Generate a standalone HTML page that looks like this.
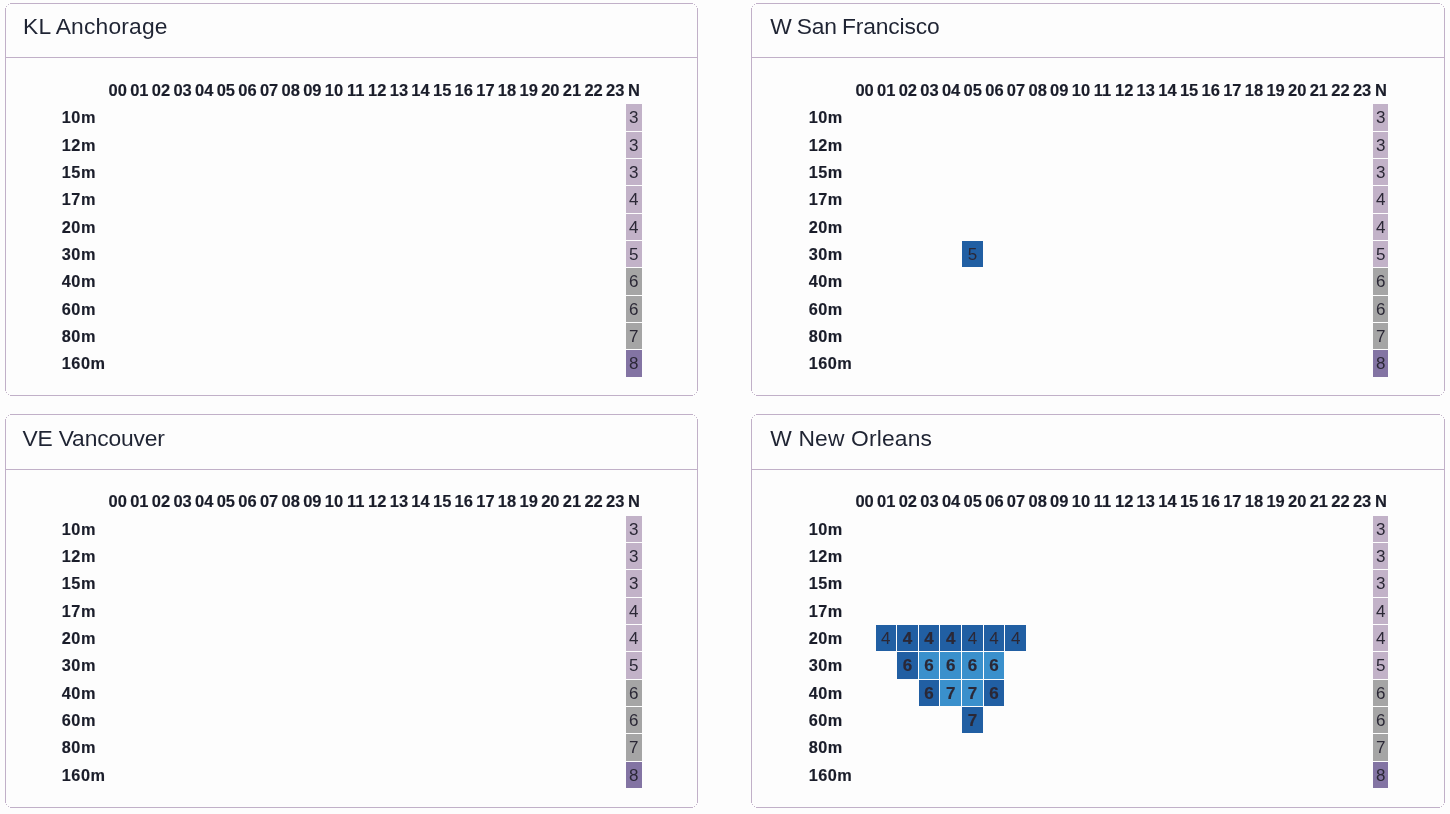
<!DOCTYPE html>
<html lang="en"><head><meta charset="utf-8"><title>Band conditions</title>
<style>
html,body{margin:0;padding:0}
body{width:1450px;height:814px;overflow:hidden;background:#fdfdfd;position:relative;font-family:"Liberation Sans",sans-serif;color:#1f2433}
.card{position:absolute;background:#fdfdfd}
.in{position:absolute;left:0;top:0;width:0;height:0}
.bh{position:absolute;left:5px;right:5px;top:0;bottom:0;border-top:1px solid #c1b0c8;border-bottom:1px solid #c1b0c8}
.bv{position:absolute;top:5px;bottom:5px;left:0;right:0;border-left:1px solid #c1b0c8;border-right:1px solid #c1b0c8}
.dots{position:absolute;left:0;top:0;width:1px;height:1px}
.card h2{position:absolute;margin:0;font-weight:400;font-size:22.8px;line-height:28px;white-space:nowrap}
.card .sep{position:absolute;left:0;right:0;height:1px;background:#c1b0c8}
.hh,.bl{-webkit-text-stroke:0.15px currentColor;color:#1a1d2a}
.hh{position:absolute;font-weight:700;font-size:16.5px;line-height:20px;height:20px;text-align:center;white-space:nowrap;letter-spacing:0px}
.bl{position:absolute;font-weight:700;font-size:16.3px;line-height:20px;height:20px;white-space:nowrap;letter-spacing:0.5px}
.c{position:absolute;text-align:center;font-size:17px;color:#2b2836;overflow:hidden}
.c span{position:absolute;left:-10px;right:-10px;text-align:center;line-height:20px;height:20px}
.c.b{font-weight:700;-webkit-text-stroke:0.2px currentColor}
.d{background:#215fa3}.l{background:#3a90cc}.p{background:#c2b2c8}.g{background:#a5a5a5}.v{background:#8374a3}
</style></head><body>

<div class="card" style="left:5px;top:3px;width:693px;height:393px"><div class="bh"></div><div class="bv"></div><div class="dots" style="box-shadow:1px 3px 0 #c7b8cd,3px 1px 0 #c7b8cd,691px 3px 0 #c7b8cd,689px 1px 0 #c7b8cd,1px 389px 0 #c7b8cd,3px 391px 0 #c7b8cd,691px 389px 0 #c7b8cd,689px 391px 0 #c7b8cd"></div><div class="in">
<h2 style="left:18.00px;top:9.00px;letter-spacing:0.19px;word-spacing:0px">KL Anchorage</h2>
</div><div class="sep" style="top:54px"></div><div class="in">
<div class="hh" style="left:101.90px;top:77.00px;width:21.63px">00</div>
<div class="hh" style="left:123.53px;top:77.00px;width:21.63px">01</div>
<div class="hh" style="left:145.16px;top:77.00px;width:21.63px">02</div>
<div class="hh" style="left:166.79px;top:77.00px;width:21.63px">03</div>
<div class="hh" style="left:188.42px;top:77.00px;width:21.63px">04</div>
<div class="hh" style="left:210.05px;top:77.00px;width:21.63px">05</div>
<div class="hh" style="left:231.68px;top:77.00px;width:21.63px">06</div>
<div class="hh" style="left:253.31px;top:77.00px;width:21.63px">07</div>
<div class="hh" style="left:274.94px;top:77.00px;width:21.63px">08</div>
<div class="hh" style="left:296.57px;top:77.00px;width:21.63px">09</div>
<div class="hh" style="left:318.20px;top:77.00px;width:21.63px">10</div>
<div class="hh" style="left:339.83px;top:77.00px;width:21.63px">11</div>
<div class="hh" style="left:361.46px;top:77.00px;width:21.63px">12</div>
<div class="hh" style="left:383.09px;top:77.00px;width:21.63px">13</div>
<div class="hh" style="left:404.72px;top:77.00px;width:21.63px">14</div>
<div class="hh" style="left:426.35px;top:77.00px;width:21.63px">15</div>
<div class="hh" style="left:447.98px;top:77.00px;width:21.63px">16</div>
<div class="hh" style="left:469.61px;top:77.00px;width:21.63px">17</div>
<div class="hh" style="left:491.24px;top:77.00px;width:21.63px">18</div>
<div class="hh" style="left:512.87px;top:77.00px;width:21.63px">19</div>
<div class="hh" style="left:534.50px;top:77.00px;width:21.63px">20</div>
<div class="hh" style="left:556.13px;top:77.00px;width:21.63px">21</div>
<div class="hh" style="left:577.76px;top:77.00px;width:21.63px">22</div>
<div class="hh" style="left:599.39px;top:77.00px;width:21.63px">23</div>
<div class="hh" style="left:621.02px;top:77.00px;width:16px">N</div>
<div class="bl" style="left:56.80px;top:104.47px">10m</div>
<div class="c p" style="left:621px;top:101px;width:16px;height:27px"><span style="top:4.27px;margin-left:-0.31px">3</span></div>
<div class="bl" style="left:56.80px;top:131.80px">12m</div>
<div class="c p" style="left:621px;top:129px;width:16px;height:26px"><span style="top:3.60px;margin-left:-0.31px">3</span></div>
<div class="bl" style="left:56.80px;top:159.13px">15m</div>
<div class="c p" style="left:621px;top:156px;width:16px;height:26px"><span style="top:3.93px;margin-left:-0.31px">3</span></div>
<div class="bl" style="left:56.80px;top:186.47px">17m</div>
<div class="c p" style="left:621px;top:183px;width:16px;height:27px"><span style="top:4.27px;margin-left:-0.31px">4</span></div>
<div class="bl" style="left:56.80px;top:213.80px">20m</div>
<div class="c p" style="left:621px;top:211px;width:16px;height:26px"><span style="top:3.60px;margin-left:-0.31px">4</span></div>
<div class="bl" style="left:56.80px;top:241.13px">30m</div>
<div class="c p" style="left:621px;top:238px;width:16px;height:26px"><span style="top:3.93px;margin-left:-0.31px">5</span></div>
<div class="bl" style="left:56.80px;top:268.46px">40m</div>
<div class="c g" style="left:621px;top:265px;width:16px;height:27px"><span style="top:4.26px;margin-left:-0.31px">6</span></div>
<div class="bl" style="left:56.80px;top:295.80px">60m</div>
<div class="c g" style="left:621px;top:293px;width:16px;height:26px"><span style="top:3.60px;margin-left:-0.31px">6</span></div>
<div class="bl" style="left:56.80px;top:323.13px">80m</div>
<div class="c g" style="left:621px;top:320px;width:16px;height:26px"><span style="top:3.93px;margin-left:-0.31px">7</span></div>
<div class="bl" style="left:56.80px;top:350.46px">160m</div>
<div class="c v" style="left:621px;top:347px;width:16px;height:27px"><span style="top:4.26px;margin-left:-0.31px">8</span></div>
</div></div>
<div class="card" style="left:751px;top:3px;width:694px;height:393px"><div class="bh"></div><div class="bv"></div><div class="dots" style="box-shadow:1px 3px 0 #c7b8cd,3px 1px 0 #c7b8cd,692px 3px 0 #c7b8cd,690px 1px 0 #c7b8cd,1px 389px 0 #c7b8cd,3px 391px 0 #c7b8cd,692px 389px 0 #c7b8cd,690px 391px 0 #c7b8cd"></div><div class="in">
<h2 style="left:19.20px;top:9.00px;letter-spacing:-0.13px;word-spacing:-1.1px">W San Francisco</h2>
</div><div class="sep" style="top:54px"></div><div class="in">
<div class="hh" style="left:102.80px;top:77.00px;width:21.63px">00</div>
<div class="hh" style="left:124.43px;top:77.00px;width:21.63px">01</div>
<div class="hh" style="left:146.06px;top:77.00px;width:21.63px">02</div>
<div class="hh" style="left:167.69px;top:77.00px;width:21.63px">03</div>
<div class="hh" style="left:189.32px;top:77.00px;width:21.63px">04</div>
<div class="hh" style="left:210.95px;top:77.00px;width:21.63px">05</div>
<div class="hh" style="left:232.58px;top:77.00px;width:21.63px">06</div>
<div class="hh" style="left:254.21px;top:77.00px;width:21.63px">07</div>
<div class="hh" style="left:275.84px;top:77.00px;width:21.63px">08</div>
<div class="hh" style="left:297.47px;top:77.00px;width:21.63px">09</div>
<div class="hh" style="left:319.10px;top:77.00px;width:21.63px">10</div>
<div class="hh" style="left:340.73px;top:77.00px;width:21.63px">11</div>
<div class="hh" style="left:362.36px;top:77.00px;width:21.63px">12</div>
<div class="hh" style="left:383.99px;top:77.00px;width:21.63px">13</div>
<div class="hh" style="left:405.62px;top:77.00px;width:21.63px">14</div>
<div class="hh" style="left:427.25px;top:77.00px;width:21.63px">15</div>
<div class="hh" style="left:448.88px;top:77.00px;width:21.63px">16</div>
<div class="hh" style="left:470.51px;top:77.00px;width:21.63px">17</div>
<div class="hh" style="left:492.14px;top:77.00px;width:21.63px">18</div>
<div class="hh" style="left:513.77px;top:77.00px;width:21.63px">19</div>
<div class="hh" style="left:535.40px;top:77.00px;width:21.63px">20</div>
<div class="hh" style="left:557.03px;top:77.00px;width:21.63px">21</div>
<div class="hh" style="left:578.66px;top:77.00px;width:21.63px">22</div>
<div class="hh" style="left:600.29px;top:77.00px;width:21.63px">23</div>
<div class="hh" style="left:621.92px;top:77.00px;width:16px">N</div>
<div class="bl" style="left:57.70px;top:104.47px">10m</div>
<div class="c p" style="left:622px;top:101px;width:15px;height:27px"><span style="top:4.27px;margin-left:0.49px">3</span></div>
<div class="bl" style="left:57.70px;top:131.80px">12m</div>
<div class="c p" style="left:622px;top:129px;width:15px;height:26px"><span style="top:3.60px;margin-left:0.49px">3</span></div>
<div class="bl" style="left:57.70px;top:159.13px">15m</div>
<div class="c p" style="left:622px;top:156px;width:15px;height:26px"><span style="top:3.93px;margin-left:0.49px">3</span></div>
<div class="bl" style="left:57.70px;top:186.47px">17m</div>
<div class="c p" style="left:622px;top:183px;width:15px;height:27px"><span style="top:4.27px;margin-left:0.49px">4</span></div>
<div class="bl" style="left:57.70px;top:213.80px">20m</div>
<div class="c p" style="left:622px;top:211px;width:15px;height:26px"><span style="top:3.60px;margin-left:0.49px">4</span></div>
<div class="bl" style="left:57.70px;top:241.13px">30m</div>
<div class="c d" style="left:211px;top:238px;width:21px;height:26px"><span style="top:3.93px;margin-left:-0.27px">5</span></div>
<div class="c p" style="left:622px;top:238px;width:15px;height:26px"><span style="top:3.93px;margin-left:0.49px">5</span></div>
<div class="bl" style="left:57.70px;top:268.46px">40m</div>
<div class="c g" style="left:622px;top:265px;width:15px;height:27px"><span style="top:4.26px;margin-left:0.49px">6</span></div>
<div class="bl" style="left:57.70px;top:295.80px">60m</div>
<div class="c g" style="left:622px;top:293px;width:15px;height:26px"><span style="top:3.60px;margin-left:0.49px">6</span></div>
<div class="bl" style="left:57.70px;top:323.13px">80m</div>
<div class="c g" style="left:622px;top:320px;width:15px;height:26px"><span style="top:3.93px;margin-left:0.49px">7</span></div>
<div class="bl" style="left:57.70px;top:350.46px">160m</div>
<div class="c v" style="left:622px;top:347px;width:15px;height:27px"><span style="top:4.26px;margin-left:0.49px">8</span></div>
</div></div>
<div class="card" style="left:5px;top:414px;width:693px;height:394px"><div class="bh"></div><div class="bv"></div><div class="dots" style="box-shadow:1px 3px 0 #c7b8cd,3px 1px 0 #c7b8cd,691px 3px 0 #c7b8cd,689px 1px 0 #c7b8cd,1px 390px 0 #c7b8cd,3px 392px 0 #c7b8cd,691px 390px 0 #c7b8cd,689px 392px 0 #c7b8cd"></div><div class="in">
<h2 style="left:17.40px;top:10.00px;letter-spacing:-0.14px;word-spacing:0px">VE Vancouver</h2>
</div><div class="sep" style="top:55px"></div><div class="in">
<div class="hh" style="left:101.90px;top:77.40px;width:21.63px">00</div>
<div class="hh" style="left:123.53px;top:77.40px;width:21.63px">01</div>
<div class="hh" style="left:145.16px;top:77.40px;width:21.63px">02</div>
<div class="hh" style="left:166.79px;top:77.40px;width:21.63px">03</div>
<div class="hh" style="left:188.42px;top:77.40px;width:21.63px">04</div>
<div class="hh" style="left:210.05px;top:77.40px;width:21.63px">05</div>
<div class="hh" style="left:231.68px;top:77.40px;width:21.63px">06</div>
<div class="hh" style="left:253.31px;top:77.40px;width:21.63px">07</div>
<div class="hh" style="left:274.94px;top:77.40px;width:21.63px">08</div>
<div class="hh" style="left:296.57px;top:77.40px;width:21.63px">09</div>
<div class="hh" style="left:318.20px;top:77.40px;width:21.63px">10</div>
<div class="hh" style="left:339.83px;top:77.40px;width:21.63px">11</div>
<div class="hh" style="left:361.46px;top:77.40px;width:21.63px">12</div>
<div class="hh" style="left:383.09px;top:77.40px;width:21.63px">13</div>
<div class="hh" style="left:404.72px;top:77.40px;width:21.63px">14</div>
<div class="hh" style="left:426.35px;top:77.40px;width:21.63px">15</div>
<div class="hh" style="left:447.98px;top:77.40px;width:21.63px">16</div>
<div class="hh" style="left:469.61px;top:77.40px;width:21.63px">17</div>
<div class="hh" style="left:491.24px;top:77.40px;width:21.63px">18</div>
<div class="hh" style="left:512.87px;top:77.40px;width:21.63px">19</div>
<div class="hh" style="left:534.50px;top:77.40px;width:21.63px">20</div>
<div class="hh" style="left:556.13px;top:77.40px;width:21.63px">21</div>
<div class="hh" style="left:577.76px;top:77.40px;width:21.63px">22</div>
<div class="hh" style="left:599.39px;top:77.40px;width:21.63px">23</div>
<div class="hh" style="left:621.02px;top:77.40px;width:16px">N</div>
<div class="bl" style="left:56.80px;top:104.72px">10m</div>
<div class="c p" style="left:621px;top:102px;width:16px;height:26px"><span style="top:3.67px;margin-left:-0.31px">3</span></div>
<div class="bl" style="left:56.80px;top:132.05px">12m</div>
<div class="c p" style="left:621px;top:129px;width:16px;height:26px"><span style="top:4.00px;margin-left:-0.31px">3</span></div>
<div class="bl" style="left:56.80px;top:159.38px">15m</div>
<div class="c p" style="left:621px;top:156px;width:16px;height:27px"><span style="top:4.33px;margin-left:-0.31px">3</span></div>
<div class="bl" style="left:56.80px;top:186.72px">17m</div>
<div class="c p" style="left:621px;top:184px;width:16px;height:26px"><span style="top:3.67px;margin-left:-0.31px">4</span></div>
<div class="bl" style="left:56.80px;top:214.05px">20m</div>
<div class="c p" style="left:621px;top:211px;width:16px;height:26px"><span style="top:4.00px;margin-left:-0.31px">4</span></div>
<div class="bl" style="left:56.80px;top:241.38px">30m</div>
<div class="c p" style="left:621px;top:238px;width:16px;height:27px"><span style="top:4.33px;margin-left:-0.31px">5</span></div>
<div class="bl" style="left:56.80px;top:268.71px">40m</div>
<div class="c g" style="left:621px;top:266px;width:16px;height:26px"><span style="top:3.66px;margin-left:-0.31px">6</span></div>
<div class="bl" style="left:56.80px;top:296.05px">60m</div>
<div class="c g" style="left:621px;top:293px;width:16px;height:26px"><span style="top:4.00px;margin-left:-0.31px">6</span></div>
<div class="bl" style="left:56.80px;top:323.38px">80m</div>
<div class="c g" style="left:621px;top:320px;width:16px;height:27px"><span style="top:4.33px;margin-left:-0.31px">7</span></div>
<div class="bl" style="left:56.80px;top:350.71px">160m</div>
<div class="c v" style="left:621px;top:348px;width:16px;height:26px"><span style="top:3.66px;margin-left:-0.31px">8</span></div>
</div></div>
<div class="card" style="left:751px;top:414px;width:694px;height:394px"><div class="bh"></div><div class="bv"></div><div class="dots" style="box-shadow:1px 3px 0 #c7b8cd,3px 1px 0 #c7b8cd,692px 3px 0 #c7b8cd,690px 1px 0 #c7b8cd,1px 390px 0 #c7b8cd,3px 392px 0 #c7b8cd,692px 390px 0 #c7b8cd,690px 392px 0 #c7b8cd"></div><div class="in">
<h2 style="left:19.20px;top:10.00px;letter-spacing:0.18px;word-spacing:0px">W New Orleans</h2>
</div><div class="sep" style="top:55px"></div><div class="in">
<div class="hh" style="left:102.80px;top:77.40px;width:21.63px">00</div>
<div class="hh" style="left:124.43px;top:77.40px;width:21.63px">01</div>
<div class="hh" style="left:146.06px;top:77.40px;width:21.63px">02</div>
<div class="hh" style="left:167.69px;top:77.40px;width:21.63px">03</div>
<div class="hh" style="left:189.32px;top:77.40px;width:21.63px">04</div>
<div class="hh" style="left:210.95px;top:77.40px;width:21.63px">05</div>
<div class="hh" style="left:232.58px;top:77.40px;width:21.63px">06</div>
<div class="hh" style="left:254.21px;top:77.40px;width:21.63px">07</div>
<div class="hh" style="left:275.84px;top:77.40px;width:21.63px">08</div>
<div class="hh" style="left:297.47px;top:77.40px;width:21.63px">09</div>
<div class="hh" style="left:319.10px;top:77.40px;width:21.63px">10</div>
<div class="hh" style="left:340.73px;top:77.40px;width:21.63px">11</div>
<div class="hh" style="left:362.36px;top:77.40px;width:21.63px">12</div>
<div class="hh" style="left:383.99px;top:77.40px;width:21.63px">13</div>
<div class="hh" style="left:405.62px;top:77.40px;width:21.63px">14</div>
<div class="hh" style="left:427.25px;top:77.40px;width:21.63px">15</div>
<div class="hh" style="left:448.88px;top:77.40px;width:21.63px">16</div>
<div class="hh" style="left:470.51px;top:77.40px;width:21.63px">17</div>
<div class="hh" style="left:492.14px;top:77.40px;width:21.63px">18</div>
<div class="hh" style="left:513.77px;top:77.40px;width:21.63px">19</div>
<div class="hh" style="left:535.40px;top:77.40px;width:21.63px">20</div>
<div class="hh" style="left:557.03px;top:77.40px;width:21.63px">21</div>
<div class="hh" style="left:578.66px;top:77.40px;width:21.63px">22</div>
<div class="hh" style="left:600.29px;top:77.40px;width:21.63px">23</div>
<div class="hh" style="left:621.92px;top:77.40px;width:16px">N</div>
<div class="bl" style="left:57.70px;top:104.72px">10m</div>
<div class="c p" style="left:622px;top:102px;width:15px;height:26px"><span style="top:3.67px;margin-left:0.49px">3</span></div>
<div class="bl" style="left:57.70px;top:132.05px">12m</div>
<div class="c p" style="left:622px;top:129px;width:15px;height:26px"><span style="top:4.00px;margin-left:0.49px">3</span></div>
<div class="bl" style="left:57.70px;top:159.38px">15m</div>
<div class="c p" style="left:622px;top:156px;width:15px;height:27px"><span style="top:4.33px;margin-left:0.49px">3</span></div>
<div class="bl" style="left:57.70px;top:186.72px">17m</div>
<div class="c p" style="left:622px;top:184px;width:15px;height:26px"><span style="top:3.67px;margin-left:0.49px">4</span></div>
<div class="bl" style="left:57.70px;top:214.05px">20m</div>
<div class="c d" style="left:125px;top:211px;width:20px;height:26px"><span style="top:4.00px;margin-left:-0.31px">4</span></div>
<div class="c d b" style="left:146px;top:211px;width:21px;height:26px"><span style="top:4.00px;margin-left:-0.05px">4</span></div>
<div class="c d b" style="left:168px;top:211px;width:20px;height:26px"><span style="top:4.00px;margin-left:0.21px">4</span></div>
<div class="c d b" style="left:189px;top:211px;width:21px;height:26px"><span style="top:4.00px;margin-left:0.47px">4</span></div>
<div class="c d" style="left:211px;top:211px;width:21px;height:26px"><span style="top:4.00px;margin-left:-0.27px">4</span></div>
<div class="c d" style="left:233px;top:211px;width:20px;height:26px"><span style="top:4.00px;margin-left:-0.01px">4</span></div>
<div class="c d" style="left:254px;top:211px;width:21px;height:26px"><span style="top:4.00px;margin-left:0.25px">4</span></div>
<div class="c p" style="left:622px;top:211px;width:15px;height:26px"><span style="top:4.00px;margin-left:0.49px">4</span></div>
<div class="bl" style="left:57.70px;top:241.38px">30m</div>
<div class="c d b" style="left:146px;top:238px;width:21px;height:27px"><span style="top:4.33px;margin-left:-0.05px">6</span></div>
<div class="c l b" style="left:168px;top:238px;width:20px;height:27px"><span style="top:4.33px;margin-left:0.21px">6</span></div>
<div class="c l b" style="left:189px;top:238px;width:21px;height:27px"><span style="top:4.33px;margin-left:0.47px">6</span></div>
<div class="c l b" style="left:211px;top:238px;width:21px;height:27px"><span style="top:4.33px;margin-left:-0.27px">6</span></div>
<div class="c l b" style="left:233px;top:238px;width:20px;height:27px"><span style="top:4.33px;margin-left:-0.01px">6</span></div>
<div class="c p" style="left:622px;top:238px;width:15px;height:27px"><span style="top:4.33px;margin-left:0.49px">5</span></div>
<div class="bl" style="left:57.70px;top:268.71px">40m</div>
<div class="c d b" style="left:168px;top:266px;width:20px;height:26px"><span style="top:3.66px;margin-left:0.21px">6</span></div>
<div class="c l b" style="left:189px;top:266px;width:21px;height:26px"><span style="top:3.66px;margin-left:0.47px">7</span></div>
<div class="c l b" style="left:211px;top:266px;width:21px;height:26px"><span style="top:3.66px;margin-left:-0.27px">7</span></div>
<div class="c d b" style="left:233px;top:266px;width:20px;height:26px"><span style="top:3.66px;margin-left:-0.01px">6</span></div>
<div class="c g" style="left:622px;top:266px;width:15px;height:26px"><span style="top:3.66px;margin-left:0.49px">6</span></div>
<div class="bl" style="left:57.70px;top:296.05px">60m</div>
<div class="c d b" style="left:211px;top:293px;width:21px;height:26px"><span style="top:4.00px;margin-left:-0.27px">7</span></div>
<div class="c g" style="left:622px;top:293px;width:15px;height:26px"><span style="top:4.00px;margin-left:0.49px">6</span></div>
<div class="bl" style="left:57.70px;top:323.38px">80m</div>
<div class="c g" style="left:622px;top:320px;width:15px;height:27px"><span style="top:4.33px;margin-left:0.49px">7</span></div>
<div class="bl" style="left:57.70px;top:350.71px">160m</div>
<div class="c v" style="left:622px;top:348px;width:15px;height:26px"><span style="top:3.66px;margin-left:0.49px">8</span></div>
</div></div>
</body></html>
